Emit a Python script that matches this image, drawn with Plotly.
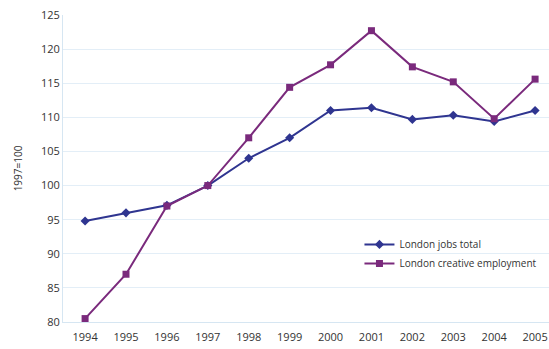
import plotly.graph_objects as go

years = ["1994", "1995", "1996", "1997", "1998", "1999", "2000", "2001", "2002", "2003", "2004", "2005"]
jobs_total = [94.8, 96.0, 97.1, 100.0, 104.0, 107.0, 111.0, 111.4, 109.7, 110.3, 109.4, 111.0]
creative = [80.5, 87.0, 97.0, 100.0, 107.0, 114.4, 117.7, 122.7, 117.4, 115.2, 109.8, 115.6]
y_ticks = [80, 85, 90, 95, 100, 105, 110, 115, 120, 125]

idx = list(range(len(years)))

fig = go.Figure()
fig.add_trace(go.Scatter(
    x=idx, y=jobs_total, mode="lines+markers", name="London jobs total",
    line=dict(color="#2f3590", width=2),
    marker=dict(symbol="diamond", size=7, color="#2f3590"),
))
fig.add_trace(go.Scatter(
    x=idx, y=creative, mode="lines+markers", name="London creative employment",
    line=dict(color="#7a2a7c", width=2),
    marker=dict(symbol="square", size=7, color="#7a2a7c"),
))

fig.update_layout(
    width=549, height=349,
    margin=dict(l=63, r=0, t=15, b=27),
    paper_bgcolor="white", plot_bgcolor="white",
    font=dict(family="Open Sans", size=11, color="#333333"),
    showlegend=True,
    legend=dict(x=0.61, y=0.30, xanchor="left", yanchor="top",
                bgcolor="rgba(255,255,255,0)", font=dict(size=10, color="#333333"),
                tracegroupgap=2, itemwidth=30),
    xaxis=dict(
        tickmode="array", tickvals=idx, ticktext=years,
        range=[-0.54, 11.34], showgrid=False, zeroline=False,
        showline=True, linecolor="#d6e6f2", linewidth=1,
        ticks="", ticklabelstandoff=5, tickfont=dict(size=11, color="#333333"),
    ),
    yaxis=dict(
        range=[80, 125], tickvals=y_ticks, showgrid=True,
        gridcolor="#e3eef7", gridwidth=1, zeroline=False,
        showline=True, linecolor="#d6e6f2", linewidth=1,
        ticks="", ticklen=0, tickfont=dict(size=11, color="#333333"),
        title=dict(text="1997=100", font=dict(size=10, color="#333333"), standoff=16),
    ),
)

fig.write_html("out.html")
